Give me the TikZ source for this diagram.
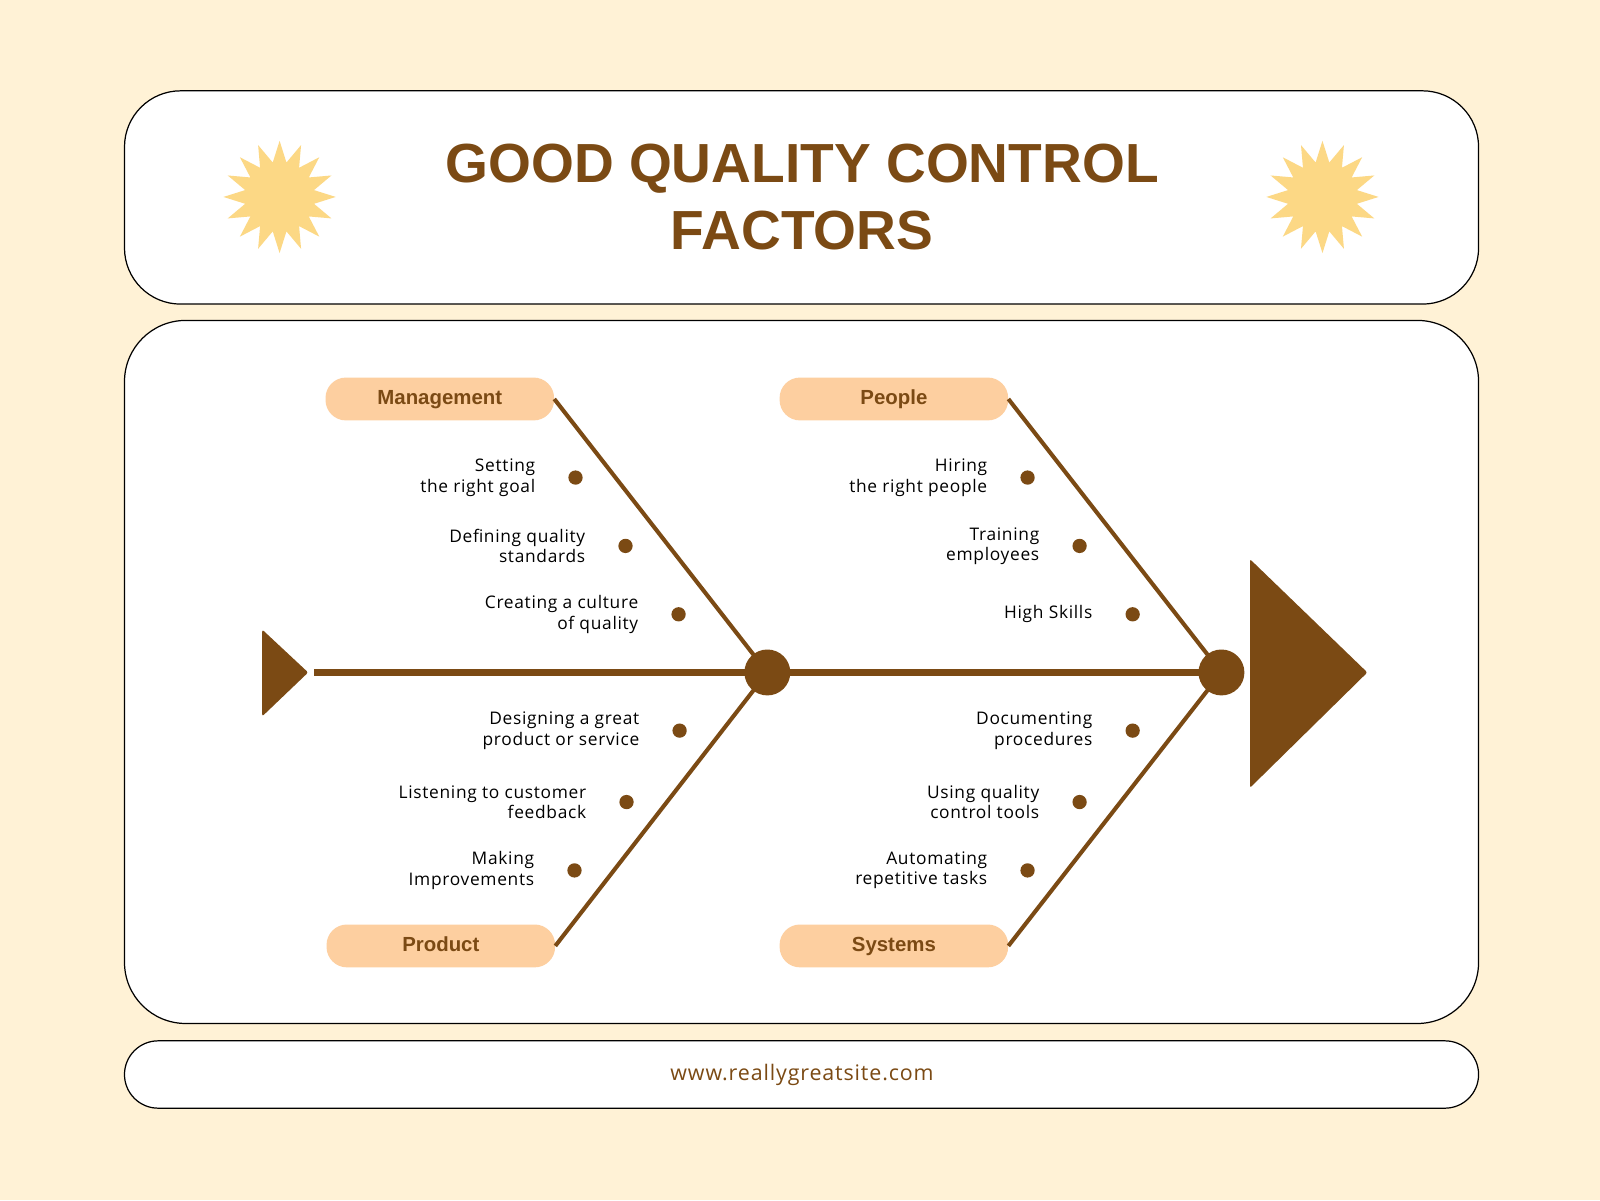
\documentclass[tikz,border=0pt]{standalone}
\usepackage{fontspec}
\setmainfont{Liberation Sans}
\newfontfamily\bodyf{Open Sans}[LetterSpace=4]
\usetikzlibrary{shapes.geometric}
\definecolor{bgc}{HTML}{FFF2D6}
\definecolor{brn}{HTML}{7B4A14}
\definecolor{pill}{HTML}{FDCFA0}
\definecolor{starc}{HTML}{FCD885}
\begin{document}
\begin{tikzpicture}[x=1pt,y=-1pt,
  panel/.style={draw=black,line width=1.2pt,fill=white},
  pilln/.style={fill=pill,rounded corners=20pt,minimum width=224pt,minimum height=42pt,text height=14pt,text depth=4pt,text=brn,font=\bfseries\fontsize{20}{24}\selectfont},
  bone/.style={draw=brn,line width=4pt},
  dot/.style={circle,fill=brn,inner sep=0pt,minimum size=14pt},
  lbl/.style={align=right,anchor=east,font=\bodyf\fontsize{17}{20}\selectfont,text=black},
  starn/.style={star,star points=16,star point ratio=1.6,fill=starc,minimum size=110pt,inner sep=0pt}]
\useasboundingbox[fill=bgc] (0,0) rectangle (1568,1176);
\draw[panel,rounded corners=55pt] (122,89) rectangle (1449,298);
\draw[panel,rounded corners=60pt] (122,314) rectangle (1449,1003);
\draw[panel,rounded corners=33pt] (122,1020) rectangle (1449,1086);
\node[font=\bfseries\fontsize{54}{65}\selectfont,text=brn,align=center] (title) at (786,193) {GOOD QUALITY CONTROL\\FACTORS};
\node[starn] (s1) at (274,193) {};
\node[starn] (s2) at (1296,193) {};
\node[font=\bodyf\fontsize{21}{24}\selectfont,text=brn] (url) at (786,1053) {www.reallygreatsite.com};
\coordinate (sl) at (308,659);
\coordinate (sr) at (1178,659);
\draw[bone,line width=7pt] (sl) -- (sr);
\fill[brn,rounded corners=2pt] (257,617) -- (302,659) -- (257,702) -- cycle;
\fill[brn,rounded corners=2pt] (1225,548) -- (1340,659) -- (1225,772) -- cycle;
\node[circle,fill=brn,minimum size=45pt,inner sep=0] (c1) at (752,659) {};
\node[circle,fill=brn,minimum size=45pt,inner sep=0] (c2) at (1197,659) {};
\node[pilln] (m) at (431,391) {Management};
\node[pilln] (p) at (876,391) {People};
\node[pilln] (pr) at (432,927) {Product};
\node[pilln] (sy) at (876,927) {Systems};
\draw[bone] (m.east) -- (c1.center);
\draw[bone] (pr.east) -- (c1.center);
\draw[bone] (p.east) -- (c2.center);
\draw[bone] (sy.east) -- (c2.center);
\foreach \n/\x/\y/\t in {a/564/468/{Setting\\the right goal},b/613/535/{Defining quality\\standards},c/665/602/{Creating a culture\\of quality},d/666/716/{Designing a great\\product or service},e/614/786/{Listening to customer\\feedback},f/563/853/{Making\\Improvements},g/1007/468/{Hiring\\the right people},h/1058/535/{Training\\employees},i/1110/602/{High Skills},j/1110/716/{Documenting\\procedures},k/1058/786/{Using quality\\control tools},l/1007/853/{Automating\\repetitive tasks}}{
  \node[dot] (d\n) at (\x,\y) {};
  \node[lbl] (t\n) at (\x-36,\y) {\t};
}
\end{tikzpicture}
\end{document}
